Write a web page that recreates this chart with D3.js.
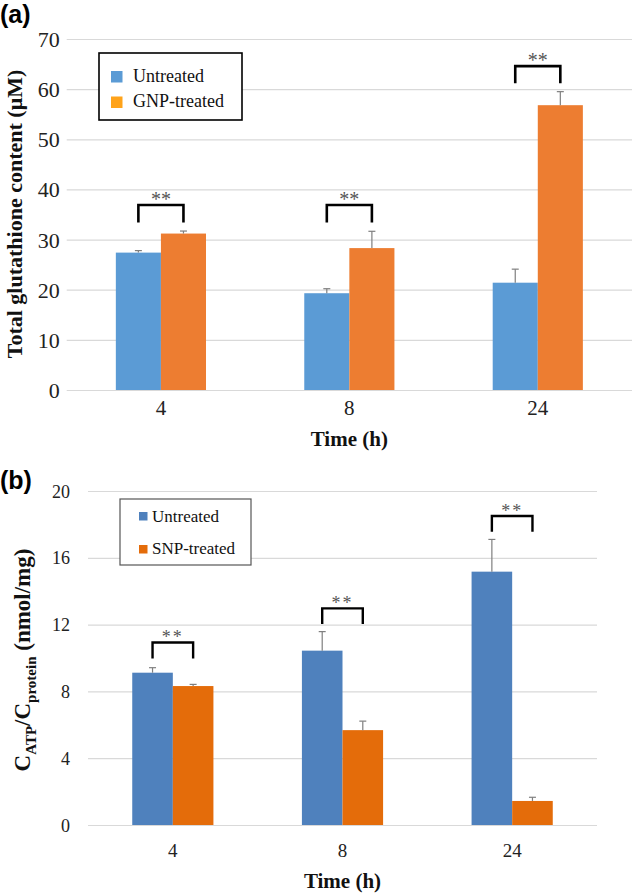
<!DOCTYPE html>
<html><head><meta charset="utf-8">
<script src="https://cdn.jsdelivr.net/npm/d3@7"></script>
<style>body{margin:0;background:#fff}</style>
</head><body>
<svg id="c" width="632" height="895" xmlns="http://www.w3.org/2000/svg"></svg>
<script>
// ---------- DATA ----------
const categories = ["4", "8", "24"];
// Panel (a) total glutathione (µM)
const untreatedA = [27.4, 19.3, 21.4];
const untreatedAErr = [0.4, 0.9, 2.7];
const gnpA = [31.2, 28.3, 56.8];
const gnpAErr = [0.5, 3.35, 2.7];
const ticksA = [0, 10, 20, 30, 40, 50, 60, 70];
const bracketTopA = [36.9, 36.9, 64.6];
const bracketBottomA = [33.4, 33.4, 61.2];
const seriesNamesA = ["Untreated", "GNP-treated"];
// Panel (b) CATP/Cprotein (nmol/mg)
const untreatedB = [9.12, 10.44, 15.17];
const untreatedBErr = [0.3, 1.14, 1.93];
const snpB = [8.32, 5.68, 1.44];
const snpBErr = [0.1, 0.54, 0.22];
const ticksB = [0, 4, 8, 12, 16, 20];
const bracketTopB = [10.93, 12.97, 18.5];
const bracketBottomB = [9.97, 12.04, 17.56];
const seriesNamesB = ["Untreated", "SNP-treated"];
const sigLabel = "**";

const svg = d3.select("#c");
const SERIF = "'Liberation Serif','Times New Roman',serif";
const SANS = "'Liberation Sans',Arial,sans-serif";

function panel(cfg) {
  const g = svg.append("g");
  const x0 = d3.scaleBand().domain(categories).range([cfg.x0, cfg.x1]);
  const x1 = d3.scaleBand().domain([0, 1]).range([0, x0.bandwidth()]).paddingOuter(1.09);
  const y = d3.scaleLinear().domain([0, cfg.ymax]).range([cfg.yBottom, cfg.yTop]);

  // y axis with gridlines
  const ya = g.append("g").attr("transform", `translate(${cfg.x0},0)`)
    .call(d3.axisLeft(y).tickValues(cfg.ticks).tickSize(-(cfg.x1 - cfg.x0)).tickPadding(cfg.tickPad));
  ya.select(".domain").remove();
  ya.selectAll(".tick line").attr("stroke", "#d9d9d9").attr("stroke-width", 1.2);
  ya.selectAll(".tick text").attr("font-family", SERIF).attr("font-size", cfg.yFont)
    .attr("fill", "#222").attr("dy", "0.34em");

  // x axis labels
  const xa = g.append("g").attr("transform", `translate(0,${cfg.yBottom})`)
    .call(d3.axisBottom(x0).tickSize(0));
  xa.select(".domain").remove();
  xa.selectAll(".tick text").attr("font-family", SERIF).attr("font-size", cfg.xFont)
    .attr("fill", "#222").attr("y", cfg.xLabelOff).attr("dy", 0);

  const series = [
    { vals: cfg.s0, err: cfg.e0, col: cfg.c0 },
    { vals: cfg.s1, err: cfg.e1, col: cfg.c1 }
  ];
  series.forEach((s, si) => {
    categories.forEach((c, ci) => {
      const bx = x0(c) + x1(si);
      g.append("rect").attr("x", bx).attr("width", x1.bandwidth())
        .attr("y", y(s.vals[ci])).attr("height", y(0) - y(s.vals[ci])).attr("fill", s.col);
    });
  });
  // error bars
  series.forEach((s, si) => {
    categories.forEach((c, ci) => {
      const cx = x0(c) + x1(si) + x1.bandwidth() / 2;
      const top = y(s.vals[ci] + s.err[ci]);
      g.append("line").attr("x1", cx).attr("x2", cx).attr("y1", y(s.vals[ci])).attr("y2", top)
        .attr("stroke", "#7f7f7f").attr("stroke-width", 1.2);
      g.append("line").attr("x1", cx - 3.5).attr("x2", cx + 3.5).attr("y1", top).attr("y2", top)
        .attr("stroke", "#7f7f7f").attr("stroke-width", 1.2);
    });
  });
  // significance brackets
  categories.forEach((c, ci) => {
    const xa_ = x0(c) + x1(0) + x1.bandwidth() / 2;
    const xb_ = x0(c) + x1(1) + x1.bandwidth() / 2;
    const yt = y(cfg.bt[ci]), yb = y(cfg.bb[ci]);
    g.append("path").attr("d", `M${xa_},${yb}V${yt}H${xb_}V${yb}`)
      .attr("fill", "none").attr("stroke", "#000").attr("stroke-width", cfg.brW);
    g.append("text").attr("x", (xa_ + xb_) / 2).attr("y", yt - 6 + 0.36 * cfg.starFont)
      .attr("text-anchor", "middle").attr("font-family", SERIF).attr("font-size", cfg.starFont)
      .attr("letter-spacing", cfg.starSpacing)
      .attr("fill", "#555").text(sigLabel);
  });

  // legend
  const L = cfg.legend;
  g.append("rect").attr("x", L.x).attr("y", L.y).attr("width", L.w).attr("height", L.h)
    .attr("fill", "#fff").attr("stroke", L.stroke).attr("stroke-width", L.sw);
  cfg.names.forEach((n, i) => {
    g.append("rect").attr("x", L.sqX).attr("y", L.sqY[i]).attr("width", L.sq).attr("height", L.sq)
      .attr("fill", L.cols[i]);
    g.append("text").attr("x", L.tx).attr("y", L.ty[i]).attr("font-family", SERIF)
      .attr("font-size", L.font).attr("fill", "#111").text(n);
  });

  // x title
  g.append("text").attr("x", (cfg.x0 + cfg.x1) / 2).attr("y", cfg.xTitleY).attr("text-anchor", "middle")
    .attr("font-family", SERIF).attr("font-weight", "bold").attr("font-size", 21).attr("fill", "#111")
    .text("Time (h)");
  // panel letter
  g.append("text").attr("x", 0).attr("y", cfg.letterY).attr("font-family", SANS).attr("font-weight", "bold")
    .attr("font-size", 25).attr("fill", "#000").text(cfg.letter);
  return { g, y };
}

const A = panel({
  x0: 66.7, x1: 632, yTop: 39, yBottom: 390, ymax: 70, ticks: ticksA, tickPad: 7, yFont: 22,
  xFont: 21, xLabelOff: 25,
  s0: untreatedA, e0: untreatedAErr, s1: gnpA, e1: gnpAErr, c0: "#5b9bd5", c1: "#ed7d31",
  bt: bracketTopA, bb: bracketBottomA, brW: 2.6, starFont: 20, starSpacing: 0,
  names: seriesNamesA,
  legend: { x: 99, y: 53, w: 143, h: 67, stroke: "#000", sw: 1.6, sqX: 111, sqY: [71, 96.5], sq: 11.5,
    cols: ["#5b9bd5", "#ffa31a"], tx: 133, ty: [81.5, 107], font: 18 },
  xTitleY: 446, letter: "(a)", letterY: 23
});
// y title a
svg.append("text").attr("transform", "translate(22,214) rotate(-90)").attr("text-anchor", "middle")
  .attr("font-family", SERIF).attr("font-weight", "bold").attr("font-size", 22).attr("fill", "#111")
  .text("Total glutathione content (\u03bcM)");

const B = panel({
  x0: 88, x1: 597, yTop: 491, yBottom: 825, ymax: 20, ticks: ticksB, tickPad: 18, yFont: 18,
  xFont: 19, xLabelOff: 31.5,
  s0: untreatedB, e0: untreatedBErr, s1: snpB, e1: snpBErr, c0: "#4f81bd", c1: "#e46c0a",
  bt: bracketTopB, bb: bracketBottomB, brW: 2.4, starFont: 18, starSpacing: 2,
  names: seriesNamesB,
  legend: { x: 120, y: 499, w: 131, h: 66, stroke: "#555", sw: 1.2, sqX: 139, sqY: [512, 545], sq: 8.5,
    cols: ["#4f81bd", "#e46c0a"], tx: 152, ty: [521.5, 554], font: 17 },
  xTitleY: 888, letter: "(b)", letterY: 489
});
// y title b with subscripts
const tb = svg.append("text").attr("transform", "translate(30,660) rotate(-90)").attr("text-anchor", "middle")
  .attr("font-family", SERIF).attr("font-weight", "bold").attr("font-size", 23).attr("fill", "#111");
tb.append("tspan").text("C");
tb.append("tspan").attr("font-size", 15).attr("dy", 6).text("ATP");
tb.append("tspan").attr("dy", -6).text("/C");
tb.append("tspan").attr("font-size", 15).attr("dy", 6).text("protein");
tb.append("tspan").attr("dy", -6).text(" (nmol/mg)");
</script>
</body></html>
